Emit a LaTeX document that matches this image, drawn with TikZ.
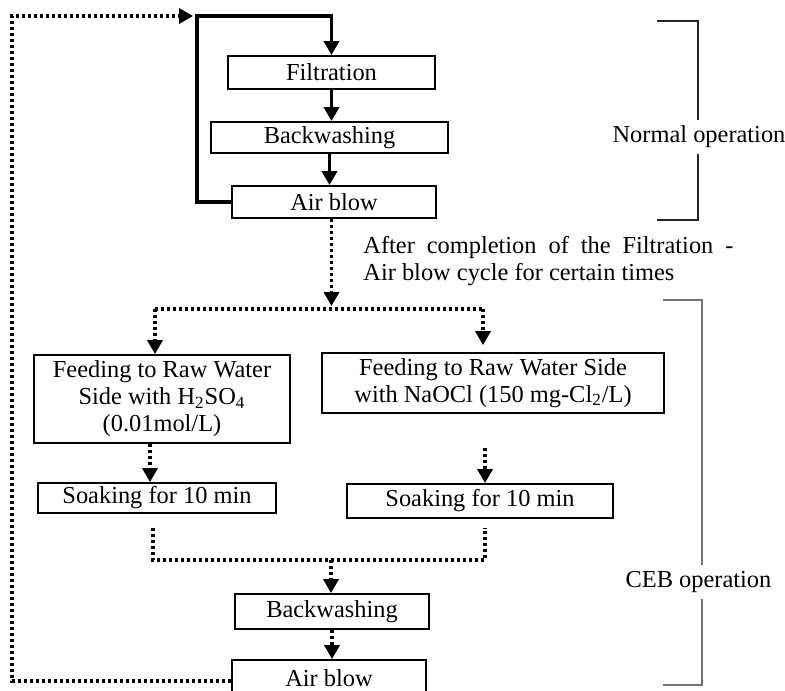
\documentclass[tikz,border=0pt]{standalone}
\usepackage{fontspec}
\setmainfont{Liberation Serif}
\usetikzlibrary{arrows.meta}
\begin{document}
\begin{tikzpicture}[x=0.5pt,y=-0.5pt,
  font=\fontsize{12.2}{13.5}\selectfont,
  box/.style={draw, line width=0.9pt, inner sep=0pt, align=center},
  arr/.style={-{Triangle[width=7.5pt,length=7pt]}},
  dotline/.style={line width=1.8pt, dash pattern=on 1.6pt off 1.4pt},
  solidline/.style={line width=1.7pt},
  bracketA/.style={line width=0.6pt, draw=black!85},
  bracketB/.style={line width=0.6pt, draw=black!55},
  lab/.style={fill=white, inner sep=1.5pt}]
\useasboundingbox (0,0) rectangle (785,690);

% boxes
\node[box, minimum width=103.5pt, minimum height=16.5pt] (filt) at (331.5,72.5) {Filtration};
\node[box, minimum width=118.5pt, minimum height=15.5pt] (bw1) at (329.5,137.5) {Backwashing};
\node[box, minimum width=102pt, minimum height=16pt] (ab1) at (334,202) {Air blow};
\node[box, minimum width=128pt, minimum height=44pt] (feedL) at (162,399) {Feeding to Raw Water\\Side with H\textsubscript{2}SO\textsubscript{4}\\(0.01mol/L)};
\node[box, minimum width=171pt, minimum height=30pt] (feedR) at (493,383) {Feeding to Raw Water Side\\with NaOCl (150 mg-Cl\textsubscript{2}/L)};
\node[box, minimum width=119pt, minimum height=15pt] (soakL) at (157,498) {Soaking for 10 min};
\node[box, minimum width=133pt, minimum height=17pt] (soakR) at (480,501) {Soaking for 10 min};
\node[box, minimum width=97pt, minimum height=17.5pt] (bw2) at (332,611.5) {Backwashing};
\node[box, minimum width=97pt, minimum height=18pt] (ab2) at (329,678) {Air blow};

% caption
\node[anchor=west, inner sep=0pt, align=left] (cap) at (363,261.5)
  {\makebox[185pt][s]{After completion of the Filtration -}\\Air blow cycle for certain times};

% coordinates
\coordinate (lc) at (12,16);
\coordinate (lt) at (197,16);
\coordinate (lb) at (12,681);
\coordinate (sp) at (331.5,309);
\coordinate (sL) at (155,309);
\coordinate (sR) at (483,309);
\coordinate (xa) at (150,0);
\coordinate (xb) at (485,0);
\coordinate (jL) at (153,560);
\coordinate (jR) at (485,560);
\coordinate (jC) at (331,560);

% return dotted loop
\draw[dotline, arr, shorten >=2pt] (ab2.west |- lb) -- (lb) -- (lc) -- (lt);

% normal loop
\draw[solidline, arr] (ab1.west) -| (lt) -| (filt.north);
\draw[solidline, arr] (filt.south) -- (filt.south |- bw1.north);
\draw[solidline, arr] (bw1.south) -- (bw1.south |- ab1.north);

% CEB branch
\draw[dotline, arr, shorten >=1.5pt] (ab1.south -| sp) -- (sp);
\draw[dotline] (sL) -- (sR);
\draw[dotline, arr] (sL) -- (sL |- feedL.north);
\draw[dotline, arr, shorten >=3.5pt] (sR) -- (sR |- feedR.north);
\draw[dotline, arr] (feedL.south -| xa) -- (soakL.north -| xa);
\draw[dotline, arr, shorten <=17pt] (feedR.south -| xb) -- (soakR.north -| xb);
\draw[dotline, shorten <=7pt, shorten >=4.5pt] (soakL.south -| jL) -- (jL) -- (jR) -- (soakR.south -| jR);
\draw[dotline, arr] (jC) -- (jC |- bw2.north);
\draw[dotline, arr] (bw2.south) -- (bw2.south |- ab2.north);

% brackets
\draw[bracketA] (657,21) -- (698,21) -- (698,220) -- (657,220);
\node[lab, inner sep=3pt] (nlab) at (699,137) {Normal operation};
\draw[bracketB] (663,300) -- (702,300) -- (702,685) -- (663,685);
\node[lab, inner sep=3pt] (clab) at (698.5,582) {CEB operation};
\end{tikzpicture}
\end{document}
